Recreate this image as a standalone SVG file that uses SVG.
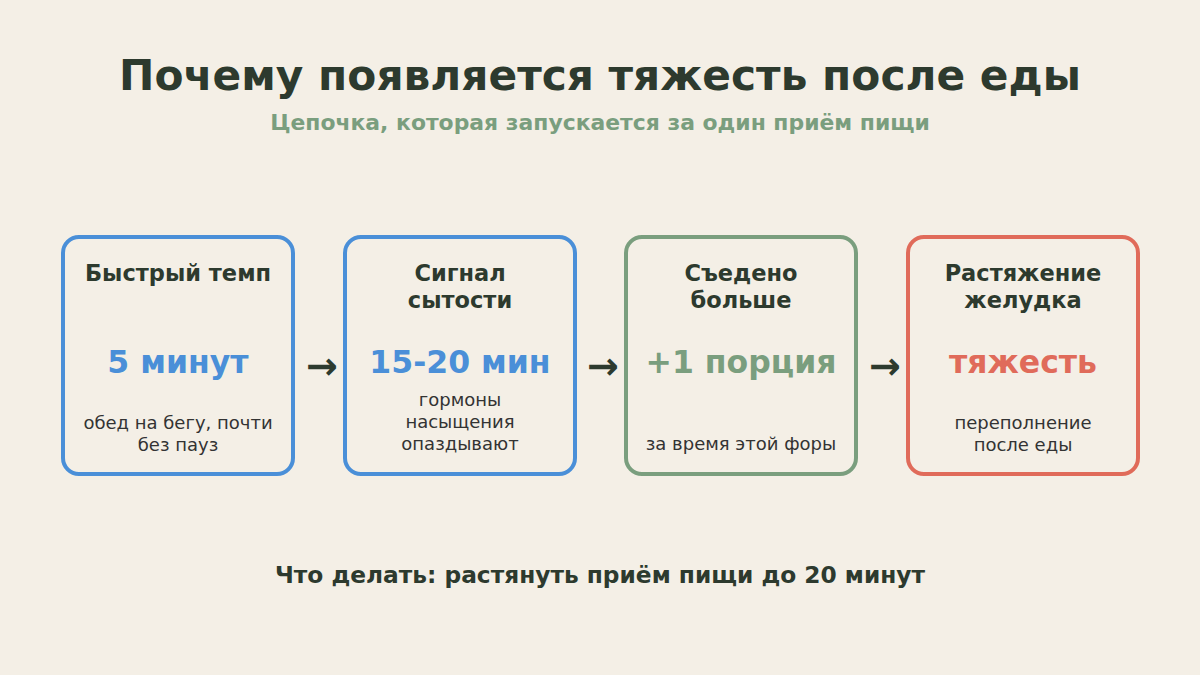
<svg xmlns="http://www.w3.org/2000/svg" width="1200" height="675" viewBox="0 0 1200 675">
<style>
text{font-family:"DejaVu Sans","Noto Sans",sans-serif;text-anchor:middle}
.title{font-size:42.3px;font-weight:bold;fill:#2d3a2e}
.sub{font-size:21.9px;font-weight:bold;fill:#7a9e7e}
.head{font-size:22.5px;font-weight:bold;fill:#2d3a2e}
.val{font-size:31.5px;font-weight:bold}
.small{font-size:18px;fill:#333}
.box{fill:#f4efe6;stroke-width:4}
.arrow{font-size:38px;font-weight:bold;fill:#2d3a2e}
.foot{font-size:23.3px;font-weight:bold;fill:#2d3a2e}
</style>
<rect width="1200" height="675" fill="#f4efe6"/>
<text class="title" x="600" y="90">Почему появляется тяжесть после еды</text>
<text class="sub" x="600" y="130">Цепочка, которая запускается за один приём пищи</text>
<g id="node1">
<rect class="box" x="63" y="237" width="230" height="237" rx="16" stroke="#4a8fd8"/>
<text class="head" x="178" y="281">Быстрый темп</text>
<text class="val" x="178" y="373" fill="#4a8fd8">5 минут</text>
<text class="small" x="178" y="429">обед на бегу, почти</text>
<text class="small" x="178" y="451">без пауз</text>
</g>
<g id="node2">
<rect class="box" x="345" y="237" width="230" height="237" rx="16" stroke="#4a8fd8"/>
<text class="head" x="460" y="281">Сигнал</text>
<text class="head" x="460" y="308">сытости</text>
<text class="val" x="460" y="373" fill="#4a8fd8">15-20 мин</text>
<text class="small" x="460" y="406">гормоны</text>
<text class="small" x="460" y="428">насыщения</text>
<text class="small" x="460" y="450">опаздывают</text>
</g>
<g id="node3">
<rect class="box" x="626" y="237" width="230" height="237" rx="16" stroke="#7a9e7e"/>
<text class="head" x="741" y="281">Съедено</text>
<text class="head" x="741" y="308">больше</text>
<text class="val" x="741" y="373" fill="#7a9e7e">+1 порция</text>
<text class="small" x="741" y="450">за время этой форы</text>
</g>
<g id="node4">
<rect class="box" x="908" y="237" width="230" height="237" rx="16" stroke="#e06b5a"/>
<text class="head" x="1023" y="281">Растяжение</text>
<text class="head" x="1023" y="308">желудка</text>
<text class="val" x="1023" y="373" fill="#e06b5a">тяжесть</text>
<text class="small" x="1023" y="429">переполнение</text>
<text class="small" x="1023" y="451">после еды</text>
</g>
<g id="connectors">
<text class="arrow" x="322" y="379">→</text>
<text class="arrow" x="603" y="379">→</text>
<text class="arrow" x="885" y="379">→</text>
</g>
<text class="foot" x="600" y="583">Что делать: растянуть приём пищи до 20 минут</text>
</svg>
